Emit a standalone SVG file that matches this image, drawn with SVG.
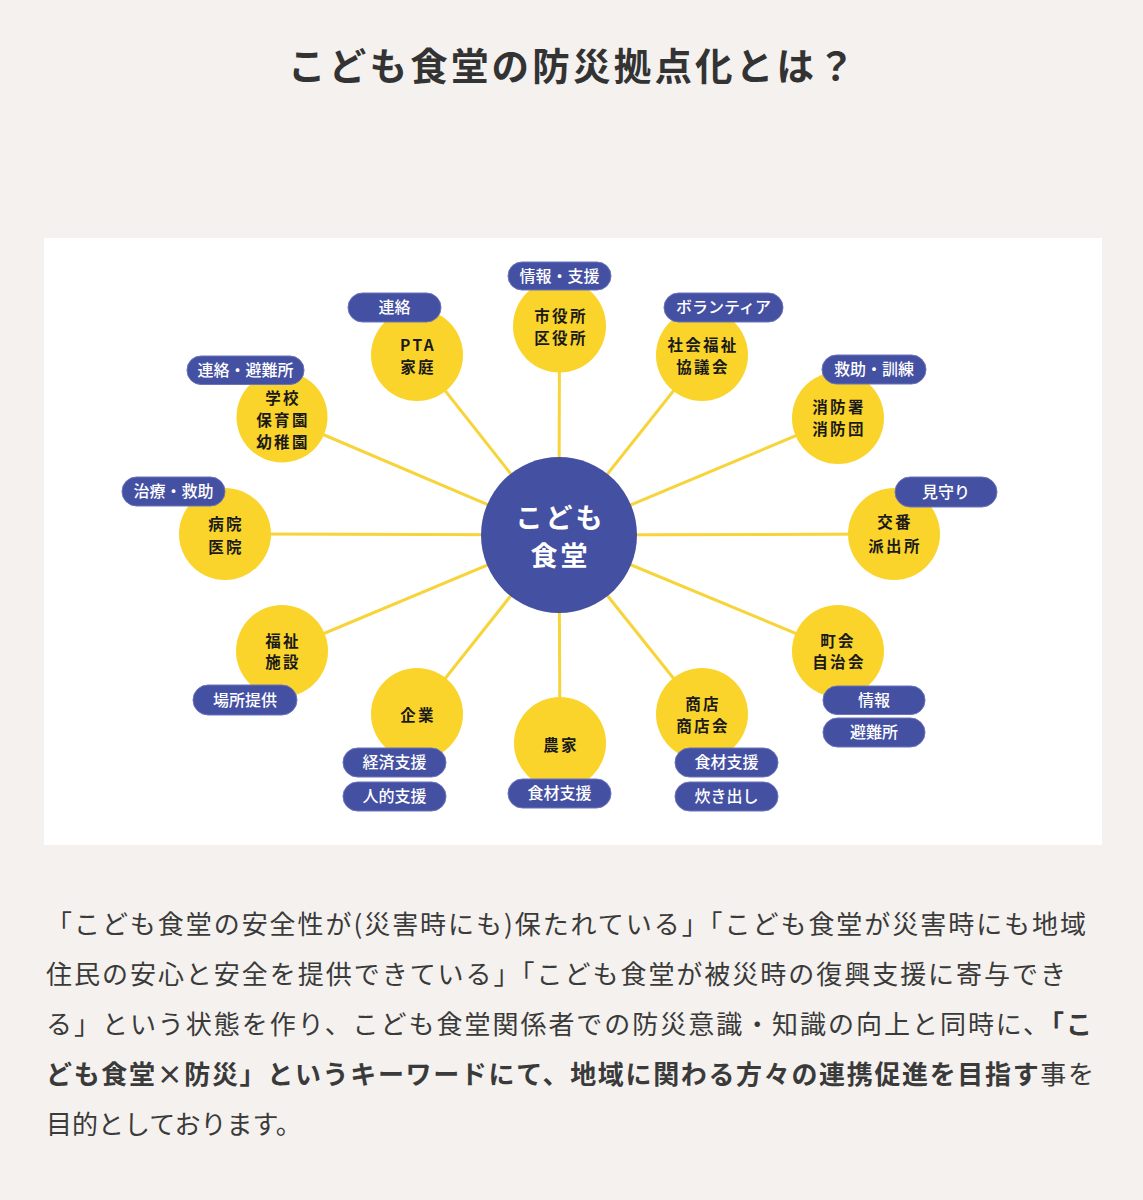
<svg xmlns="http://www.w3.org/2000/svg" width="1143" height="1200" viewBox="0 0 1143 1200">
<style>
.bg{fill:#f4f1ee}
.panel{fill:#ffffff}
.title{font-family:"Noto Sans CJK JP","Noto Sans",sans-serif;font-weight:700;font-size:37.5px;fill:#333333;letter-spacing:3.2px}
.para{font-family:"Noto Sans CJK JP","Noto Sans",sans-serif;font-size:26px;fill:#3a3a3a}
.b{font-weight:700}
.conn{stroke:#f7d43a;stroke-width:3;fill:none}
.hub{fill:#4450a2}
.hubt{font-family:"Noto Sans CJK JP",sans-serif;font-weight:700;font-size:27px;fill:#ffffff;letter-spacing:3px;text-anchor:middle}
.node{fill:#fad42a}
.nt{font-family:"Noto Sans CJK JP",sans-serif;font-weight:700;font-size:15.5px;fill:#1a1a1a;letter-spacing:2.3px;text-anchor:middle}
.pill{fill:#4450a2;stroke:#6a73bb;stroke-width:1}
.pt{font-family:"Noto Sans CJK JP",sans-serif;font-weight:500;font-size:16px;fill:#ffffff;text-anchor:middle}
</style>
<rect class="bg" x="0" y="0" width="1143" height="1200"/>
<text class="title" x="573" y="80" text-anchor="middle">こども食堂の防災拠点化とは？</text>
<rect class="panel" x="44" y="238" width="1058" height="607"/>

<g id="connectors">
<line class="conn" x1="559" y1="535" x2="559.5" y2="326"/>
<line class="conn" x1="559" y1="535" x2="702" y2="355"/>
<line class="conn" x1="559" y1="535" x2="417" y2="355"/>
<line class="conn" x1="559" y1="535" x2="282" y2="417"/>
<line class="conn" x1="559" y1="535" x2="838" y2="418"/>
<line class="conn" x1="559" y1="535" x2="894" y2="534"/>
<line class="conn" x1="559" y1="535" x2="225" y2="534"/>
<line class="conn" x1="559" y1="535" x2="282" y2="651"/>
<line class="conn" x1="559" y1="535" x2="838" y2="651"/>
<line class="conn" x1="559" y1="535" x2="417" y2="714"/>
<line class="conn" x1="559" y1="535" x2="560" y2="743"/>
<line class="conn" x1="559" y1="535" x2="702" y2="714"/>
</g>

<g id="hub">
<circle class="hub" cx="559" cy="535" r="78"/>
<text class="hubt" x="560.5" y="528">こども</text>
<text class="hubt" x="560.5" y="566">食堂</text>
</g>

<g id="n-city">
<circle class="node" cx="559.5" cy="326" r="46.5"/>
<text class="nt" x="561" y="322">市役所</text>
<text class="nt" x="561" y="344">区役所</text>
<rect class="pill" x="508" y="262" width="103" height="28" rx="14"/>
<text class="pt" x="559.5" y="281.5">情報・支援</text>
</g>

<g id="n-shakyo">
<circle class="node" cx="702" cy="355" r="46"/>
<text class="nt" x="703" y="351">社会福祉</text>
<text class="nt" x="703" y="373">協議会</text>
<rect class="pill" x="664" y="293" width="119" height="29" rx="14.5"/>
<text class="pt" x="723.5" y="313">ボランティア</text>
</g>

<g id="n-pta">
<circle class="node" cx="417" cy="355" r="46"/>
<text class="nt" x="418" y="351">PTA</text>
<text class="nt" x="418" y="373">家庭</text>
<rect class="pill" x="348" y="293" width="93" height="29" rx="14.5"/>
<text class="pt" x="394.5" y="313">連絡</text>
</g>

<g id="n-school">
<circle class="node" cx="282" cy="417" r="45.5"/>
<text class="nt" x="283" y="404">学校</text>
<text class="nt" x="283" y="426">保育園</text>
<text class="nt" x="283" y="448">幼稚園</text>
<rect class="pill" x="187" y="356" width="117" height="28.5" rx="14"/>
<text class="pt" x="245.5" y="375.5">連絡・避難所</text>
</g>

<g id="n-fire">
<circle class="node" cx="838" cy="418" r="46"/>
<text class="nt" x="839" y="413">消防署</text>
<text class="nt" x="839" y="435">消防団</text>
<rect class="pill" x="822" y="355" width="104" height="29" rx="14.5"/>
<text class="pt" x="874" y="375">救助・訓練</text>
</g>

<g id="n-police">
<circle class="node" cx="894" cy="534" r="46"/>
<text class="nt" x="895" y="528">交番</text>
<text class="nt" x="895" y="552">派出所</text>
<rect class="pill" x="895" y="477" width="102" height="30" rx="15"/>
<text class="pt" x="946" y="497.5">見守り</text>
</g>

<g id="n-hospital">
<circle class="node" cx="225" cy="534" r="46"/>
<text class="nt" x="226" y="530">病院</text>
<text class="nt" x="226" y="553">医院</text>
<rect class="pill" x="122" y="477" width="103" height="29" rx="14.5"/>
<text class="pt" x="173.5" y="497">治療・救助</text>
</g>

<g id="n-welfare">
<circle class="node" cx="282" cy="651" r="46"/>
<text class="nt" x="283" y="647">福祉</text>
<text class="nt" x="283" y="668">施設</text>
<rect class="pill" x="193" y="685" width="104" height="30" rx="15"/>
<text class="pt" x="245" y="705.5">場所提供</text>
</g>

<g id="n-chokai">
<circle class="node" cx="838" cy="651" r="46"/>
<text class="nt" x="838" y="647">町会</text>
<text class="nt" x="839" y="668">自治会</text>
<rect class="pill" x="823" y="686" width="102" height="28.5" rx="14"/>
<text class="pt" x="874" y="705.5">情報</text>
<rect class="pill" x="823" y="718" width="102" height="29" rx="14.5"/>
<text class="pt" x="874" y="738">避難所</text>
</g>

<g id="n-company">
<circle class="node" cx="417" cy="714" r="46"/>
<text class="nt" x="418" y="721">企業</text>
<rect class="pill" x="343" y="748" width="103" height="29" rx="14.5"/>
<text class="pt" x="394.5" y="768">経済支援</text>
<rect class="pill" x="343" y="782" width="103" height="29" rx="14.5"/>
<text class="pt" x="394.5" y="802">人的支援</text>
</g>

<g id="n-farmer">
<circle class="node" cx="560" cy="743" r="46"/>
<text class="nt" x="561" y="751">農家</text>
<rect class="pill" x="508" y="779" width="103" height="29" rx="14.5"/>
<text class="pt" x="559.5" y="799">食材支援</text>
</g>

<g id="n-shop">
<circle class="node" cx="702" cy="714" r="46"/>
<text class="nt" x="703" y="710">商店</text>
<text class="nt" x="703" y="732">商店会</text>
<rect class="pill" x="675" y="748" width="103" height="29" rx="14.5"/>
<text class="pt" x="726.5" y="768">食材支援</text>
<rect class="pill" x="675" y="782" width="103" height="29" rx="14.5"/>
<text class="pt" x="726.5" y="802">炊き出し</text>
</g>

<text class="para" x="46" y="934" textLength="1040" lengthAdjust="spacing">「こども食堂の安全性が(災害時にも)保たれている」「こども食堂が災害時にも地域</text>
<text class="para" x="46" y="984" textLength="1020" lengthAdjust="spacing">住民の安心と安全を提供できている」「こども食堂が被災時の復興支援に寄与でき</text>
<text class="para" x="46" y="1034" textLength="1046" lengthAdjust="spacing">る」という状態を作り、こども食堂関係者での防災意識・知識の向上と同時に、<tspan class="b">「こ</tspan></text>
<text class="para" x="46" y="1084" textLength="1048" lengthAdjust="spacing"><tspan class="b">ども食堂×防災」というキーワードにて、地域に関わる方々の連携促進を目指す</tspan>事を</text>
<text class="para" x="46" y="1134">目的としております。</text>
</svg>
